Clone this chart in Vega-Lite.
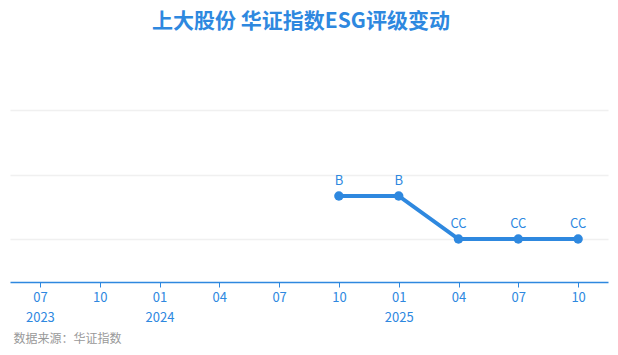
{
  "$schema": "https://vega.github.io/schema/vega-lite/v6.json",
  "width": 598,
  "height": 215,
  "autosize": {"type": "none"},
  "padding": {"left": 10, "right": 10, "top": 67, "bottom": 73},
  "background": "white",
  "title": {
    "text": "上大股份 华证指数ESG评级变动",
    "font": "Noto Sans CJK SC",
    "fontSize": 21,
    "fontWeight": "bold",
    "color": "#2e88df",
    "anchor": "middle",
    "baseline": "middle",
    "offset": 24,
    "dx": -8
  },
  "config": {
    "view": {"stroke": null},
    "font": "Noto Sans CJK SC"
  },
  "data": {
    "values": [
      {"q": "2024-10", "rating": "B", "score": 4},
      {"q": "2025-01", "rating": "B", "score": 4},
      {"q": "2025-04", "rating": "CC", "score": 2},
      {"q": "2025-07", "rating": "CC", "score": 2},
      {"q": "2025-10", "rating": "CC", "score": 2}
    ]
  },
  "encoding": {
    "x": {
      "field": "q",
      "type": "ordinal",
      "scale": {
        "type": "point",
        "padding": 0.5,
        "domain": ["2023-07", "2023-10", "2024-01", "2024-04", "2024-07", "2024-10", "2025-01", "2025-04", "2025-07", "2025-10"]
      },
      "axis": {
        "title": "数据来源：华证指数",
        "titleFont": "Noto Sans CJK SC",
        "titleFontSize": 12,
        "titleFontWeight": "normal",
        "titleColor": "#999999",
        "titleAnchor": "start",
        "titleAlign": "left",
        "titleX": 3,
        "titleY": 51,
        "labelAngle": 0,
        "labelColor": "#2e88df",
        "labelFontSize": 13,
        "labelPadding": 4,
        "labelLineHeight": 20,
        "labelExpr": "(datum.value == '2023-07' || slice(datum.value, 5) == '01') ? [slice(datum.value, 5), slice(datum.value, 0, 4)] : slice(datum.value, 5)",
        "domainColor": "#2e88df",
        "domainWidth": 1.5,
        "tickColor": "#2e88df",
        "tickSize": 5,
        "grid": false
      }
    },
    "y": {
      "field": "score",
      "type": "quantitative",
      "scale": {"domain": [0, 10], "nice": false, "zero": true},
      "axis": {
        "title": null,
        "labels": false,
        "ticks": false,
        "domain": false,
        "grid": true,
        "gridColor": "#f0f0f0",
        "gridWidth": 1.5,
        "values": [2, 5, 8]
      }
    }
  },
  "layer": [
    {
      "mark": {"type": "line", "color": "#2e88df", "strokeWidth": 4}
    },
    {
      "mark": {"type": "point", "filled": true, "opacity": 1, "color": "#2e88df", "size": 90}
    },
    {
      "mark": {"type": "text", "color": "#2e88df", "fontSize": 13, "dy": -15, "font": "Noto Sans CJK SC"},
      "encoding": {"text": {"field": "rating"}}
    }
  ]
}
